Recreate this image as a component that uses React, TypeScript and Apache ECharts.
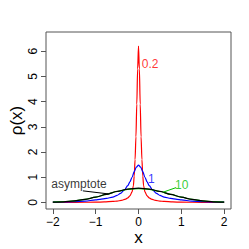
import React, { useEffect, useRef } from "react";
import * as echarts from "echarts";

const xTicks = [-2, -1, 0, 1, 2];
const yTicks = [0, 1, 2, 3, 4, 5, 6];

const redX = [-2, -1.5, -1, -0.8, -0.6, -0.5, -0.4, -0.3, -0.25, -0.2, -0.15, -0.12, -0.1, -0.08, -0.06, -0.04, -0.02, 0,
  0.02, 0.04, 0.06, 0.08, 0.1, 0.12, 0.15, 0.2, 0.25, 0.3, 0.4, 0.5, 0.6, 0.8, 1, 1.5, 2];
const redY = [0.002, 0.005, 0.012, 0.02, 0.04, 0.055, 0.08, 0.13, 0.18, 0.26, 0.42, 0.65, 1.05, 1.7, 2.6, 3.9, 5.3, 6.2,
  5.3, 3.9, 2.6, 1.7, 1.05, 0.65, 0.42, 0.26, 0.18, 0.13, 0.08, 0.055, 0.04, 0.02, 0.012, 0.005, 0.002];

const blueX = [-2, -1.75, -1.5, -1.25, -1, -0.9, -0.75, -0.6, -0.5, -0.42, -0.33, -0.25, -0.2, -0.15, -0.1, -0.05, 0,
  0.05, 0.1, 0.15, 0.2, 0.25, 0.33, 0.42, 0.5, 0.6, 0.75, 0.9, 1, 1.25, 1.5, 1.75, 2];
const blueY = [0.01, 0.018, 0.03, 0.055, 0.1, 0.125, 0.16, 0.21, 0.28, 0.36, 0.5, 0.67, 0.82, 1.0, 1.22, 1.4, 1.48,
  1.4, 1.22, 1.0, 0.82, 0.67, 0.5, 0.36, 0.28, 0.21, 0.16, 0.125, 0.1, 0.055, 0.03, 0.018, 0.01];

const gaussX = [-2, -1.75, -1.5, -1.25, -1, -0.75, -0.5, -0.25, 0, 0.25, 0.5, 0.75, 1, 1.25, 1.5, 1.75, 2];
const greenY = [0.014, 0.03, 0.065, 0.125, 0.21, 0.32, 0.435, 0.52, 0.55, 0.52, 0.435, 0.32, 0.21, 0.125, 0.065, 0.03, 0.014];
const blackY = [0.01, 0.026, 0.059, 0.118, 0.208, 0.321, 0.439, 0.53, 0.564, 0.53, 0.439, 0.321, 0.208, 0.118, 0.059, 0.026, 0.01];

const labelTexts = ["0.2", "1", "10", "asymptote"];
const labelColors = ["#ff0000", "#0000ff", "#00c000", "#000000"];
const labelAt = [[0.27, 5.48], [0.30, 0.94], [1.01, 0.70], [-1.39, 0.74]];
const greenPointer = [[0.58, 0.41], [0.88, 0.59]];
const blackPointer = [[-1.30, 0.46], [-0.71, 0.34]];

const zip = (xs: number[], ys: number[]) => xs.map((x, i) => [x, ys[i]]);
const fmt = (v: number) => (v < 0 ? "\u2212" + Math.abs(v) : String(v));

export default function App() {
  const ref = useRef<HTMLDivElement>(null);
  useEffect(() => {
    const chart = echarts.init(ref.current!, null, { renderer: "svg" });
    const font = "Liberation Sans, Arial, sans-serif";
    const curve = (data: number[][], color: string) => ({
      type: "line",
      data,
      showSymbol: false,
      symbol: "none",
      smooth: 0.3,
      smoothMonotone: "x",
      lineStyle: { color, width: 1.2 },
      silent: true,
      z: 2,
    });
    chart.setOption({
      animation: false,
      textStyle: { fontFamily: font },
      grid: {
        left: 46, right: 18, top: 32, bottom: 40,
        containLabel: false,
        outerBoundsMode: "none",
        show: true, borderColor: "#555", borderWidth: 1, backgroundColor: "transparent",
      },
      xAxis: {
        type: "value",
        min: -2.16,
        max: 2.16,
        name: "x",
        nameLocation: "middle",
        nameGap: 20,
        nameMoveOverlap: false,
        nameTextStyle: { fontSize: 17, lineHeight: 17, color: "#000", fontFamily: font },
        axisLine: { show: false, onZero: false },
        axisTick: { show: true, length: 5, customValues: xTicks, lineStyle: { color: "#555" } },
        axisLabel: { customValues: xTicks, formatter: fmt, fontSize: 12, color: "#000", margin: 7, fontFamily: font },
        splitLine: { show: false },
      },
      yAxis: {
        type: "value",
        min: -0.26,
        max: 6.76,
        name: "ρ(x)",
        nameLocation: "middle",
        nameGap: 21,
        nameMoveOverlap: false,
        nameTextStyle: { fontSize: 17, color: "#000", fontFamily: font },
        axisLine: { show: false, onZero: false },
        axisTick: { show: true, length: 5, customValues: yTicks, lineStyle: { color: "#555" } },
        axisLabel: { customValues: yTicks, fontSize: 12, color: "#000", margin: 7, rotate: 90, fontFamily: font },
        splitLine: { show: false },
      },
      series: [
        curve(zip(redX, redY), "#ff0000"),
        curve(zip(blueX, blueY), "#0000ff"),
        curve(zip(gaussX, greenY), "#00c000"),
        curve(zip(gaussX, blackY), "#000000"),
        {
          type: "line",
          data: greenPointer,
          showSymbol: false,
          symbol: "none",
          lineStyle: { color: "#00c000", width: 1 },
          silent: true,
        },
        {
          type: "line",
          data: blackPointer,
          showSymbol: false,
          symbol: "none",
          lineStyle: { color: "#000000", width: 1 },
          silent: true,
        },
        {
          type: "scatter",
          symbolSize: 0,
          silent: true,
          data: labelAt.map((p, i) => ({
            value: p,
            label: {
              show: true,
              position: "inside",
              formatter: labelTexts[i],
              color: labelColors[i],
              fontSize: 12,
              fontFamily: font,
            },
          })),
          z: 5,
        },
      ],
    });
    return () => chart.dispose();
  }, []);
  return <div ref={ref} style={{ position: "absolute", left: 0, top: 0, width: 249, height: 249, background: "#fff" }} />;
}
